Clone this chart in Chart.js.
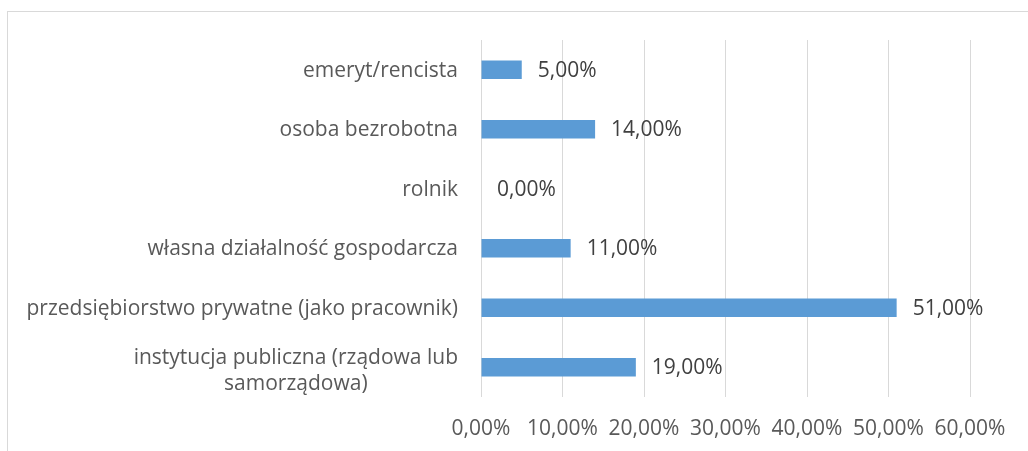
<!DOCTYPE html>
<html>
<head>
<meta charset="utf-8">
<script src="https://cdn.jsdelivr.net/npm/chart.js@4/dist/chart.umd.min.js"></script>
<style>
  html,body{margin:0;padding:0;background:#fff;overflow:hidden;}
  #frame{position:absolute;left:7px;top:11px;width:1040px;height:460px;border:1px solid #d9d9d9;box-sizing:border-box;}
  #wrap{position:absolute;left:0;top:0;width:1028px;height:451px;}
</style>
</head>
<body>
<div id="frame"></div>
<div id="wrap"><canvas id="c" width="1028" height="451"></canvas></div>
<script>
const categories = [
  'emeryt/rencista',
  'osoba bezrobotna',
  'rolnik',
  'własna działalność gospodarcza',
  'przedsiębiorstwo prywatne (jako pracownik)',
  ['instytucja publiczna (rządowa lub', 'samorządowa)']
];
const values = [5, 14, 0, 11, 51, 19];
const xTicks = [0, 10, 20, 30, 40, 50, 60];

const FONT = '"Open Sans", sans-serif';
const FS = 21;
const pct = v => v.toFixed(2).replace('.', ',') + '%';

// value labels at the end of each bar
const barLabels = {
  id: 'barLabels',
  afterDatasetsDraw(chart){
    const ctx = chart.ctx;
    const meta = chart.getDatasetMeta(0);
    ctx.save();
    ctx.font = FS + 'px ' + FONT;
    ctx.fillStyle = '#404040';
    ctx.textAlign = 'left';
    ctx.textBaseline = 'middle';
    meta.data.forEach((bar, i) => {
      ctx.fillText(pct(values[i]), bar.x + 16, bar.y + 1);
    });
    ctx.restore();
  }
};

// category labels: block right-aligned, lines centred to each other (like Excel)
const catLabels = {
  id: 'catLabels',
  afterDraw(chart){
    const ctx = chart.ctx;
    const ys = chart.scales.y;
    const right = chart.chartArea.left - 23;
    const lh = 26;
    ctx.save();
    ctx.font = FS + 'px ' + FONT;
    ctx.fillStyle = '#595959';
    ctx.textAlign = 'center';
    ctx.textBaseline = 'middle';
    categories.forEach((lab, i) => {
      const lines = Array.isArray(lab) ? lab : [lab];
      const w = Math.max(...lines.map(l => ctx.measureText(l).width));
      const cx = right - w / 2;
      const y0 = ys.getPixelForTick(i) - (lines.length - 1) * lh / 2 + 1;
      lines.forEach((l, k) => ctx.fillText(l, cx, y0 + k * lh + (lines.length > 1 ? 3 : 0)));
    });
    ctx.restore();
  }
};

new Chart(document.getElementById('c'), {
  type: 'bar',
  data: {
    labels: categories,
    datasets: [{
      data: values,
      backgroundColor: '#5b9bd5',
      barPercentage: 0.62,
      categoryPercentage: 0.5
    }]
  },
  plugins: [barLabels, catLabels],
  options: {
    indexAxis: 'y',
    responsive: false,
    animation: false,
    layout: { padding: { top: 40, right: 58, bottom: 9, left: 0 } },
    plugins: { legend: { display: false }, tooltip: { enabled: false } },
    scales: {
      x: {
        min: 0, max: 60,
        afterBuildTicks: s => { s.ticks = xTicks.map(v => ({ value: v })); },
        afterFit: s => { s.height = 45; s.paddingLeft = 0; s.paddingRight = 0; },
        grid: { color: '#d9d9d9', drawTicks: false },
        border: { display: false },
        ticks: {
          padding: 19,
          maxRotation: 0,
          color: '#595959',
          font: { family: FONT, size: FS },
          callback: v => pct(v)
        }
      },
      y: {
        afterFit: s => { s.width = 481; s.paddingTop = 0; s.paddingBottom = 0; },
        grid: { display: false, drawTicks: false },
        border: { display: false },
        ticks: { display: false }
      }
    }
  }
});
</script>
</body>
</html>
